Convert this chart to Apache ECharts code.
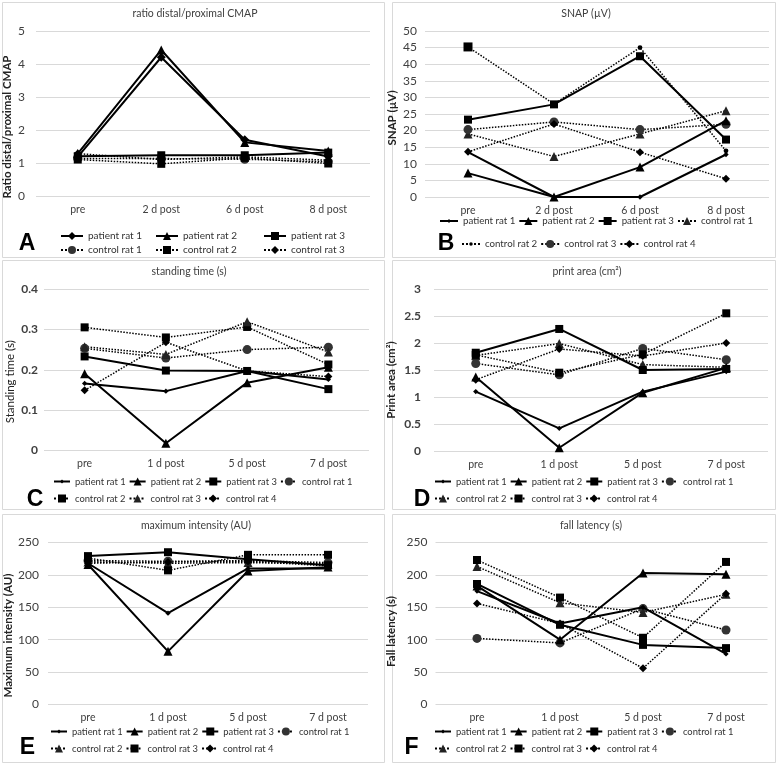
<!DOCTYPE html>
<html><head><meta charset="utf-8">
<script src="https://cdn.jsdelivr.net/npm/echarts@6/dist/echarts.min.js"></script>
<style>html,body{margin:0;padding:0;background:#fff}#c{width:778px;height:766px}</style>
</head><body><div id="c"></div><script>
// ---------- categories ----------
const catsA = ['pre', '2 d post', '6 d post', '8 d post'];
const catsB = ['pre', '2 d post', '6 d post', '8 d post'];
const catsC = ['pre', '1 d post', '5 d post', '7 d post'];
const catsD = ['pre', '1 d post', '5 d post', '7 d post'];
const catsE = ['pre', '1 d post', '5 d post', '7 d post'];
const catsF = ['pre', '1 d post', '5 d post', '7 d post'];
const namesA = ['patient rat 1', 'patient rat 2', 'patient rat 3', 'control rat 1', 'control rat 2', 'control rat 3'];
const namesBF = ['patient rat 1', 'patient rat 2', 'patient rat 3', 'control rat 1', 'control rat 2', 'control rat 3', 'control rat 4'];

// ---------- A: ratio distal/proximal CMAP ----------
const cmapP1 = [1.2, 4.22, 1.72, 1.21];
const cmapP2 = [1.3, 4.44, 1.64, 1.38];
const cmapP3 = [1.22, 1.25, 1.25, 1.33];
const cmapC1 = [1.15, 1.15, 1.13, 1.05];
const cmapC2 = [1.12, 0.99, 1.17, 1.0];
const cmapC3 = [1.3, 1.12, 1.2, 1.1];
// ---------- B: SNAP ----------
const snapP1 = [13.5, 0, 0, 12.8];
const snapP2 = [7.2, 0, 9, 23];
const snapP3 = [23.3, 27.9, 42.4, 17.3];
const snapC1 = [19, 12.2, 19, 26];
const snapC2 = [45.2, 28, 45, 13.9];
const snapC3 = [20.3, 22.6, 20.3, 21.9];
const snapC4 = [13.6, 22, 13.5, 5.5];
// ---------- C: standing time ----------
const standP1 = [0.166, 0.147, 0.197, 0.176];
const standP2 = [0.19, 0.018, 0.168, 0.206];
const standP3 = [0.233, 0.198, 0.197, 0.152];
const standC1 = [0.253, 0.229, 0.25, 0.256];
const standC2 = [0.305, 0.28, 0.306, 0.213];
const standC3 = [0.257, 0.238, 0.319, 0.244];
const standC4 = [0.149, 0.268, 0.197, 0.183];
// ---------- D: print area ----------
const printP1 = [1.1, 0.42, 1.1, 1.47];
const printP2 = [1.37, 0.06, 1.08, 1.54];
const printP3 = [1.82, 2.26, 1.5, 1.52];
const printC1 = [1.62, 1.41, 1.9, 1.69];
const printC2 = [1.77, 1.99, 1.6, 1.55];
const printC3 = [1.78, 1.45, 1.79, 2.55];
const printC4 = [1.32, 1.89, 1.76, 2.0];
// ---------- E: maximum intensity ----------
const intP1 = [218, 141, 210, 210];
const intP2 = [216, 82, 206, 212];
const intP3 = [229, 235, 224, 215];
const intC1 = [222, 221, 222, 219];
const intC2 = [220, 218, 219, 217];
const intC3 = [226, 207, 231, 231];
const intC4 = [218, 220, 221, 214];
// ---------- F: fall latency ----------
const fallP1 = [175, 125, 150, 78];
const fallP2 = [183, 100, 203, 201];
const fallP3 = [186, 123, 92, 87];
const fallC1 = [102, 95, 148, 115];
const fallC2 = [213, 157, 142, 170];
const fallC3 = [223, 165, 103, 220];
const fallC4 = [156, 125, 56, 171];

// ---------- styling / layout ----------
const FONT = 'Lato, "Liberation Sans", sans-serif';
const SMALL = 'path://M0,0M10,10M5,2.6L7.4,5L5,7.4L2.6,5Z';
const SMALLDOT = 'path://M0,0M10,10M5,2.8A2.2,2.2,0,1,1,4.99,2.8Z';
const st = {
  P_small: {symbol: SMALL, size: 11, dotted: false},
  P_dia: {symbol: 'diamond', size: 9, dotted: false},
  P_tri: {symbol: 'triangle', size: 9, dotted: false},
  P_sq: {symbol: 'rect', size: 8, dotted: false},
  C_circ: {symbol: 'circle', size: 9, dotted: true, color: '#333'},
  C_sq: {symbol: 'rect', size: 8, dotted: true},
  C_tri: {symbol: 'triangle', size: 9, dotted: true, color: '#222'},
  C_dia: {symbol: 'diamond', size: 8, dotted: true},
  C_dot: {symbol: SMALLDOT, size: 11, dotted: true}
};

const grids = [], xAxes = [], yAxes = [], series = [], legends = [], graphics = [];

function addPanel(p) {
  const i = grids.length;
  grids.push({left: p.grid[0], top: p.grid[1], width: p.grid[2] - p.grid[0], height: p.grid[3] - p.grid[1]});
  xAxes.push({type: 'category', gridIndex: i, data: p.cats, boundaryGap: true,
    axisLine: {show: false}, axisTick: {show: false},
    axisLabel: {color: '#404040', fontSize: 10.5, fontFamily: FONT, margin: 8}});
  yAxes.push({type: 'value', gridIndex: i, min: p.min, max: p.max, interval: p.interval,
    axisLine: {show: false}, axisTick: {show: false},
    splitLine: {lineStyle: {color: '#d9d9d9', width: 1}},
    axisLabel: {color: '#404040', fontSize: 12, fontFamily: FONT, margin: p.labelMargin, fontWeight: p.labelBold ? 'bold' : 'normal'},
    name: p.yName, nameLocation: 'middle', nameGap: p.nameGap,
    nameTextStyle: {color: '#222', fontSize: 11.5, fontFamily: FONT, fontWeight: p.nameBold ? 'bold' : 'normal',
      padding: p.nameShift > 0 ? [0, 2 * p.nameShift, 0, 0] : [0, 0, 0, -2 * p.nameShift]}});
  p.data.forEach((d, k) => {
    const s = p.styles[k];
    let data = d;
    if (p.override && p.override[k]) {
      data = d.map((v, j) => p.override[k][j] ? Object.assign({value: v}, p.override[k][j]) : v);
    }
    series.push({type: 'line', name: p.key + '|' + p.names[k], xAxisIndex: i, yAxisIndex: i, data: data,
      symbol: s.symbol, symbolSize: s.size, showSymbol: true, animation: false, z: s.dotted ? 3 : 4,
      lineStyle: {color: '#000', width: s.dotted ? 1.5 : 2, type: s.dotted ? 'dotted' : 'solid'},
      itemStyle: {color: s.color || '#000', borderWidth: 0}});
  });
  p.legendRows.forEach(r => {
    legends.push({left: r.left, top: r.top, orient: r.orient || 'horizontal', padding: 0, width: 360,
      itemWidth: r.iw, itemHeight: 10, itemGap: r.gap, selectedMode: false,
      data: r.items.map(k => p.key + '|' + p.names[k]),
      formatter: n => n.split('|')[1],
      textStyle: {color: '#333', fontSize: r.fs, fontFamily: FONT}});
  });
  graphics.push({type: 'rect', shape: {x: p.box[0], y: p.box[1], width: p.box[2], height: p.box[3]},
    style: {fill: 'none', stroke: '#d9d9d9', lineWidth: 1}, z: -10, silent: true});
  graphics.push({type: 'text', x: p.title[1], y: p.title[2],
    style: {text: p.title[0], fill: '#404040', fontSize: 10.5, fontFamily: FONT, align: 'center', verticalAlign: 'middle'}});
  graphics.push({type: 'text', x: p.letter[1], y: p.letter[2],
    style: {text: p.letter[0], fill: '#000', fontSize: 23, fontWeight: 'bold', fontFamily: '"Liberation Sans", Arial, sans-serif', align: 'center', verticalAlign: 'middle'}});
}

addPanel({key: 'A', cats: catsA, names: namesA, grid: [36, 31.5, 370, 196.5], min: 0, max: 5, interval: 1,
  labelMargin: 11, labelBold: false, yName: 'Ratio distal/proximal CMAP', nameGap: 23, nameBold: true, nameShift: 13,
  data: [cmapP1, cmapP2, cmapP3, cmapC1, cmapC2, cmapC3],
  styles: [st.P_dia, st.P_tri, st.P_sq, st.C_circ, st.C_sq, st.C_dia],
  legendRows: [{left: 60, top: 231, iw: 22, gap: 4, fs: 10, orient: 'vertical', items: [0, 3]},
               {left: 155, top: 231, iw: 22, gap: 4, fs: 10, orient: 'vertical', items: [1, 4]},
               {left: 263, top: 231, iw: 22, gap: 4, fs: 10, orient: 'vertical', items: [2, 5]}],
  box: [2.5, 2.5, 382, 255], title: ['ratio distal/proximal CMAP', 195, 14], letter: ['A', 27, 244]});

addPanel({key: 'B', cats: catsB, names: namesBF, grid: [425, 31, 769, 197], min: 0, max: 50, interval: 5,
  labelMargin: 8, labelBold: false, yName: 'SNAP (\u00b5V)', nameGap: 27, nameBold: true, nameShift: 4,
  data: [snapP1, snapP2, snapP3, snapC1, snapC2, snapC3, snapC4],
  styles: [st.P_small, st.P_tri, st.P_sq, st.C_tri, st.C_dot, st.C_circ, st.C_dia],
  override: {4: {0: {symbol: 'rect', symbolSize: 9}}},
  legendRows: [{left: 439, top: 216, iw: 18, gap: 3, fs: 9.7, items: [0, 1, 2, 3]},
               {left: 461, top: 239, iw: 18, gap: 3, fs: 9.7, items: [4, 5, 6]}],
  box: [392.5, 2.5, 383, 255], title: ['SNAP (\u00b5V)', 586, 14], letter: ['B', 446, 244]});

addPanel({key: 'C', cats: catsC, names: namesBF, grid: [44, 289, 369, 450.5], min: 0, max: 0.4, interval: 0.1,
  labelMargin: 6, labelBold: true, yName: 'Standing time (s)', nameGap: 28, nameBold: false, nameShift: 12,
  data: [standP1, standP2, standP3, standC1, standC2, standC3, standC4],
  styles: [st.P_small, st.P_tri, st.P_sq, st.C_circ, st.C_sq, st.C_tri, st.C_dia],
  legendRows: [{left: 53, top: 477, iw: 16, gap: 3, fs: 9.4, items: [0, 1, 2, 3]},
               {left: 53, top: 494, iw: 16, gap: 3, fs: 9.4, items: [4, 5, 6]}],
  box: [2.5, 260.5, 382, 249], title: ['standing time (s)', 189, 272], letter: ['C', 35, 500]});

addPanel({key: 'D', cats: catsD, names: namesBF, grid: [434, 289, 768, 451], min: 0, max: 3, interval: 0.5,
  labelMargin: 13, labelBold: true, yName: 'Print area (cm\u00b2)', nameGap: 37, nameBold: true, nameShift: 10,
  data: [printP1, printP2, printP3, printC1, printC2, printC3, printC4],
  styles: [st.P_small, st.P_tri, st.P_sq, st.C_circ, st.C_tri, st.C_sq, st.C_dia],
  legendRows: [{left: 434, top: 477, iw: 16, gap: 3, fs: 9.4, items: [0, 1, 2, 3]},
               {left: 434, top: 494, iw: 16, gap: 3, fs: 9.4, items: [4, 5, 6]}],
  box: [392.5, 260.5, 383, 249], title: ['print area (cm\u00b2)', 587, 272], letter: ['D', 422, 500]});

addPanel({key: 'E', cats: catsE, names: namesBF, grid: [48, 542.5, 368, 704.5], min: 0, max: 250, interval: 50,
  labelMargin: 9, labelBold: false, yName: 'Maximum intensity (AU)', nameGap: 33, nameBold: true, nameShift: 12,
  data: [intP1, intP2, intP3, intC1, intC2, intC3, intC4],
  styles: [st.P_small, st.P_tri, st.P_sq, st.C_circ, st.C_tri, st.C_sq, st.C_dia],
  legendRows: [{left: 50, top: 727, iw: 16, gap: 3, fs: 9.4, items: [0, 1, 2, 3]},
               {left: 50, top: 744, iw: 16, gap: 3, fs: 9.4, items: [4, 5, 6]}],
  box: [2.5, 514.5, 382, 248], title: ['maximum intensity (AU)', 196, 526], letter: ['E', 27.5, 748]});

addPanel({key: 'F', cats: catsF, names: namesBF, grid: [435.5, 542.5, 767.5, 704.5], min: 0, max: 250, interval: 50,
  labelMargin: 8, labelBold: false, yName: 'Fall latency (s)', nameGap: 38, nameBold: true, nameShift: 8,
  data: [fallP1, fallP2, fallP3, fallC1, fallC2, fallC3, fallC4],
  styles: [st.P_small, st.P_tri, st.P_sq, st.C_circ, st.C_tri, st.C_sq, st.C_dia],
  legendRows: [{left: 434, top: 727, iw: 16, gap: 3, fs: 9.4, items: [0, 1, 2, 3]},
               {left: 434, top: 744, iw: 16, gap: 3, fs: 9.4, items: [4, 5, 6]}],
  box: [392.5, 514.5, 383, 248], title: ['fall latency (s)', 591, 526], letter: ['F', 411.5, 748]});

const chart = echarts.init(document.getElementById('c'), null, {renderer: 'canvas'});
chart.setOption({
  backgroundColor: '#fff',
  animation: false,
  grid: grids, xAxis: xAxes, yAxis: yAxes, series: series, legend: legends, graphic: graphics
});
</script></body></html>
